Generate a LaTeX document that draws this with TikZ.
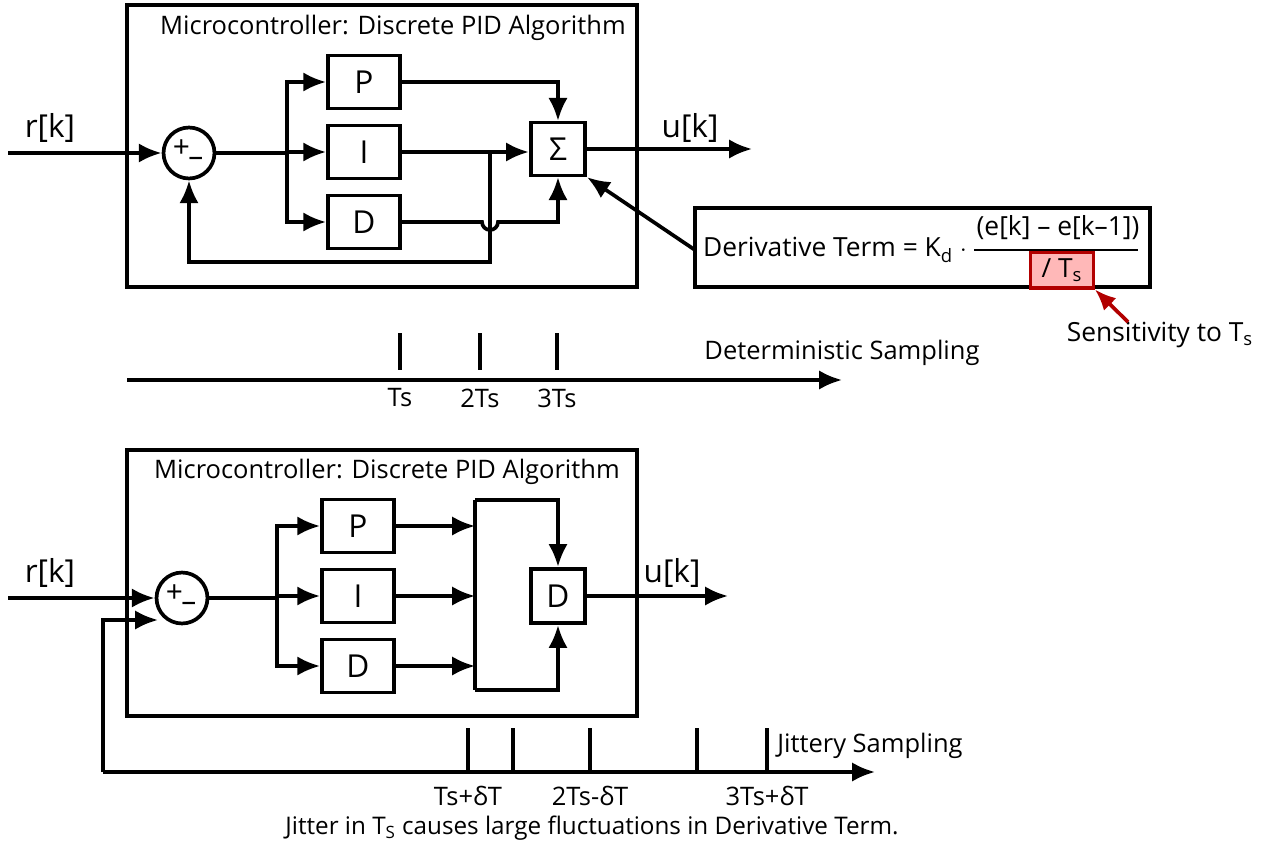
\documentclass[tikz,border=0pt]{standalone}
\usepackage{fontspec}
\setmainfont{Open Sans}
\usetikzlibrary{arrows.meta,positioning,calc}
\tikzset{
  block/.style={draw,line width=2.1pt,minimum width=41pt,minimum height=30pt,inner sep=0pt,font=\fontsize{18}{20}\selectfont},
  sumnode/.style={draw,circle,line width=2.1pt,minimum size=29pt,inner sep=0pt,font=\fontsize{17}{19}\selectfont},
  frame/.style={draw,line width=2.1pt},
  sig/.style={line width=2.1pt,-{Latex[length=13pt,width=11pt]}},
  wire/.style={line width=2.1pt},
  lbl/.style={font=\fontsize{14.5}{17}\selectfont,inner sep=1pt},
  big/.style={font=\fontsize{18}{20}\selectfont,inner sep=1pt},
  formula/.style={font=\fontsize{15}{17}\selectfont,inner sep=1pt},
}
\newcommand{\plusminus}{\kern-1pt+\kern-1pt\raisebox{-0.6ex}{\textendash}}
\begin{document}
\begin{tikzpicture}[x=0.02cm,y=-0.02cm]
\useasboundingbox (0,0) rectangle (1264,848);

% ---------- top: deterministic ----------
\draw[frame] (127,5) rectangle (637,287);
\node[lbl] at (393,28) {Microcontroller: Discrete PID Algorithm};

\node[sumnode] (s1) at (189,153) {\plusminus};
\node[block] (p1) at (364,82) {P};
\node[block] (i1) at (364,152) {I};
\node[block] (d1) at (364,222) {D};
\node[block,minimum width=31pt] (sum1) at (558,149) {Σ};

\coordinate (in1) at (8,153);
\coordinate (out1) at (752,149);
\node[big] at (50,128) {r[k]};
\node[big] at (690,128) {u[k]};

\draw[sig] (in1) -- (s1);
\draw[wire] (s1) -- (287,153);
\foreach \blk in {p1,i1,d1}
    \draw[sig] (287,153) |- (\blk);
\draw[sig] (p1) -| (sum1);
\draw[sig] (i1.east) -- (i1.east -| sum1.west);
\draw[sig] (d1.east) -- (482,222) arc (180:0:8) -| (sum1);
\draw[sig] (490,152) -- (490,262) -| (s1);
\draw[sig] (sum1) -- (out1);

% formula
\draw[frame] (695,208) rectangle (1150,287);
\node[formula,anchor=west] (dterm) at (701,250) {Derivative Term = K\textsubscript{d} $\cdot$};
\node[formula] (num) at (1058,228) {(e[k] -- e[k--1])};
\node[draw=red!70!black,fill=red!28,line width=1.8pt,minimum width=63pt*0.567,minimum height=36pt*0.567,
      formula] (tsbox) at (1062,270) {/ T\textsubscript{s}};
\draw[line width=1.4pt] (dterm.east) ++(5,0) coordinate (bar) -- (1138,248 |- bar);
\draw[sig] (695,250) -- (sum1.south east);
\node[formula] (sens) at (1160,335) {Sensitivity to T\textsubscript{s}};
\draw[line width=2.1pt,red!70!black,-{Latex[length=12pt,width=10pt]}] (1128,322) -- (tsbox.south east);

% deterministic time axis
\coordinate (ax1) at (127,380);
\draw[sig] (ax1) -- (842,380);
\foreach \x/\t in {400/Ts,480/2Ts,557/3Ts} {
    \draw[wire] (\x,333) -- (\x,370);
    \node[lbl] at (\x,398) {\t};
}
\node[lbl] at (842,353) {Deterministic Sampling};

% ---------- bottom: jittery ----------
\draw[frame] (127,450) rectangle (637,716);
\node[lbl] at (387,472) {Microcontroller: Discrete PID Algorithm};

\node[sumnode] (s2) at (182,598) {\plusminus};
\node[block] (p2) at (358,526) {P};
\node[block] (i2) at (358,596) {I};
\node[block] (d2) at (358,666) {D};
\node[block,minimum width=31pt,minimum height=31pt] (dd2) at (558,596) {D};

\coordinate (in2) at (8,598);
\coordinate (out2) at (728,596);
\coordinate (bus) at (475,0);
\node[big] at (50,573) {r[k]};
\node[big] at (672,573) {u[k]};

\draw[sig] (in2) -- (s2);
\draw[wire] (s2) -- (277,598);
\foreach \blk in {p2,i2,d2}
    \draw[sig] (277,598) |- (\blk);
\foreach \blk in {p2,i2,d2}
    \draw[sig] (\blk.east) -- (\blk.east -| bus);
\draw[wire] (475,500) -- (475,690);
\draw[sig] (475,500) -| (dd2);
\draw[sig] (475,690) -| (dd2);
\draw[sig] (dd2) -- (out2);

% jittery time axis / feedback
\coordinate (ax2) at (103,772);
\draw[sig] (ax2) -- (875,772);
\draw[sig] (ax2) -- (103,620) -- (158,620);
\foreach \x in {468,513,590,697,767}
    \draw[wire] (\x,728) -- (\x,772);
\foreach \x/\t in {468/Ts+δT,590/2Ts-δT,767/3Ts+δT}
    \node[lbl] at (\x,796) {\t};
\node[lbl] at (870,746) {Jittery Sampling};
\node[lbl,font=\fontsize{13.8}{16}\selectfont] at (592,828) {Jitter in T\textsubscript{S} causes large fluctuations in Derivative Term.};
\end{tikzpicture}
\end{document}
